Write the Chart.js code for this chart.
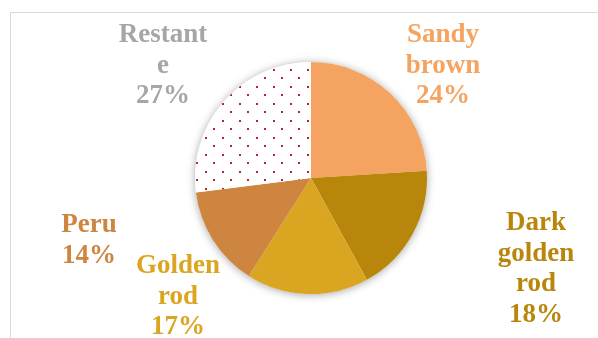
<!DOCTYPE html>
<html>
<head>
<meta charset="utf-8">
<script src="https://cdn.jsdelivr.net/npm/chart.js@4"></script>
<style>
  html, body { margin: 0; padding: 0; background: #fff; }
  #wrap { position: relative; width: 598px; height: 338px; overflow: hidden; }
  #frame { position: absolute; left: 10px; top: 12px; width: 640px; height: 400px; border: 1.5px solid #d9d9d9; }
  canvas { position: absolute; left: 0; top: 0; }
</style>
</head>
<body>
<div id="wrap">
  <div id="frame"></div>
  <canvas id="pie" width="598" height="338"></canvas>
</div>
<script>
    const categories = ['Sandy brown', 'Dark golden rod', 'Golden rod', 'Peru', 'Restante'];
    const labelLines = [['Sandy', 'brown'], ['Dark', 'golden', 'rod'], ['Golden', 'rod'], ['Peru'], ['Restant', 'e']];
    const values = [24, 18, 17, 14, 27];
    const colors = ['#F4A460', '#B8860B', '#DAA520', '#CD853F', null];
    const textColors = ['#F4A460', '#B8860B', '#DAA520', '#CD853F', '#A6A6A6'];

    // label anchors (center x, first baseline y)
    const labelAnchors = [[443, 42], [536, 230], [178, 273], [89, 232], [163, 42]];
    const lineHeight = 30.5;

    function dotPattern() {
        const c = document.createElement('canvas');
        c.width = 17; c.height = 17;
        const g = c.getContext('2d');
        g.fillStyle = '#fff';
        g.fillRect(0, 0, 17, 17);
        g.fillStyle = '#b1262c';
        g.fillRect(1, 1, 2, 2);
        g.fillRect(9, 9, 2, 2);
        return g.createPattern(c, 'repeat');
    }

    const ctx = document.getElementById('pie').getContext('2d');
    const fills = colors.map(c => c || dotPattern());

    const shadowPlugin = {
        id: 'shadow',
        beforeDatasetsDraw(chart) {
            const arc = chart.getDatasetMeta(0).data[0];
            const c = chart.ctx;
            c.save();
            c.shadowColor = 'rgba(0,0,0,0.35)';
            c.shadowBlur = 9;
            c.shadowOffsetY = 1;
            c.fillStyle = '#fff';
            c.beginPath();
            c.arc(arc.x, arc.y, arc.outerRadius, 0, Math.PI * 2);
            c.fill();
            c.restore();
        }
    };

    const labelPlugin = {
        id: 'sliceLabels',
        afterDatasetsDraw(chart) {
            const c = chart.ctx;
            const total = values.reduce((a, b) => a + b, 0);
            c.save();
            c.font = 'bold 27px "Liberation Serif"';
            c.textAlign = 'center';
            c.textBaseline = 'alphabetic';
            values.forEach((v, i) => {
                const lines = labelLines[i].concat([Math.round(v / total * 100) + '%']);
                const [x, y] = labelAnchors[i];
                c.fillStyle = textColors[i];
                lines.forEach((t, j) => c.fillText(t, x, y + j * lineHeight));
            });
            c.restore();
        }
    };

    new Chart(ctx, {
        type: 'pie',
        data: {
            labels: categories,
            datasets: [{
                data: values,
                backgroundColor: fills,
                borderWidth: 0
            }]
        },
        options: {
            responsive: false,
            animation: false,
            layout: { padding: { left: 195, right: 171, top: 62, bottom: 44 } },
            plugins: {
                legend: { display: false },
                tooltip: { enabled: false }
            }
        },
        plugins: [shadowPlugin, labelPlugin]
    });
</script>
</body>
</html>
